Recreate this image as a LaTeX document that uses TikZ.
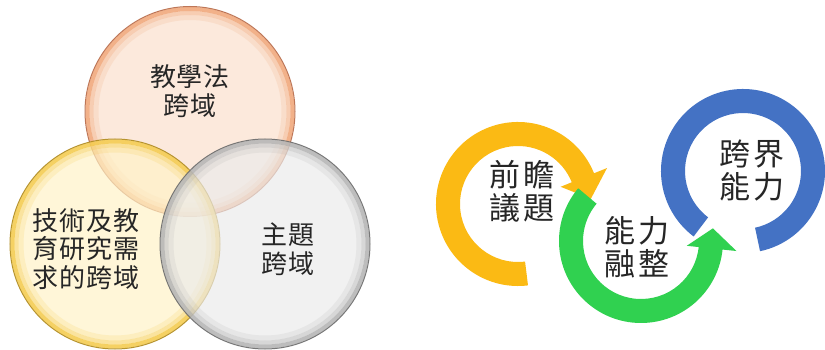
\documentclass[tikz,border=0pt]{standalone}
\usepackage{fontspec}
\newfontfamily\cjkvenn[LetterSpace=3]{Noto Sans CJK TC}
\newfontfamily\cjkring[LetterSpace=12]{Noto Sans CJK TC}
\usetikzlibrary{calc}
\definecolor{txt}{HTML}{262626}
\definecolor{peachfill}{HTML}{FBDFCC}
\definecolor{peachrim}{HTML}{EE9A66}
\definecolor{peachline}{HTML}{B86A48}
\definecolor{yelfill}{HTML}{FFF2C6}
\definecolor{yelrim}{HTML}{F2C232}
\definecolor{yelline}{HTML}{B08A1C}
\definecolor{grayfill}{HTML}{EBEBEB}
\definecolor{grayrim}{HTML}{A8A8A8}
\definecolor{grayline}{HTML}{6A6A6A}
\definecolor{ringyellow}{HTML}{FBBA14}
\definecolor{ringgreen}{HTML}{30D150}
\definecolor{ringblue}{HTML}{4472C4}
\tikzset{
  venntext/.style={font=\cjkvenn\fontsize{26}{28.5}\selectfont, text=txt, align=center, inner sep=0pt},
  ringtext/.style={font=\cjkring\fontsize{31}{33}\selectfont, text=txt, align=center, inner sep=0pt},
}
\newcommand{\bubble}[4]{%
  \fill[#2, fill opacity=0.68] (#1) circle[radius=105];
  \draw[#3, line width=4pt, opacity=0.7] (#1) circle[radius=102.5];
  \draw[#3, line width=4pt, opacity=0.35] (#1) circle[radius=98.5];
  \draw[#3, line width=5pt, opacity=0.15] (#1) circle[radius=94];
  \draw[#4, line width=1pt, opacity=0.9] (#1) circle[radius=105];
}
% band: centre, start angle, end angle, colour
\newcommand{\band}[4]{%
  \fill[#4] ($(#1)+(#2:58)$) -- ($(#1)+(#2:82)$) arc[start angle=#2, end angle=#3, radius=82]
    -- ($(#1)+(#3:58)$) arc[start angle=#3, end angle=#2, radius=58] -- cycle;
}
\begin{document}
\begin{tikzpicture}[x=1pt,y=1pt]
\useasboundingbox (0,0) rectangle (825,-350);
\fill[white] (0,0) rectangle (825,-350);
% Venn centres
\coordinate (vt) at (190,-111.5);
\coordinate (vl) at (115,-244);
\coordinate (vr) at (265,-244);
\bubble{vt}{peachfill}{peachrim}{peachline}
\bubble{vl}{yelfill}{yelrim}{yelline}
\bubble{vr}{grayfill}{grayrim}{grayline}
\node[venntext] (tt) at (190,-91) {教學法\\跨域};
\node[venntext] (tl) at (86,-249) {技術及教\\育研究需\\求的跨域};
\node[venntext] (tr) at (288,-249) {主題\\跨域};
% ring arrows
\coordinate (cy) at (518,-204);
\coordinate (cg) at (641,-241);
\coordinate (cb) at (743,-171);
\band{cy}{21}{277}{ringyellow}
\fill[ringyellow] ($(cy)+(22:46)$) -- ($(cy)+(22:96)$) -- ($(cy)+(4:73)$) -- cycle;
\band{cg}{140}{355}{ringgreen}
\fill[ringgreen] ($(cg)+(-6:96)$) -- ($(cg)+(-6:46)$) -- ($(cg)+(10:73)$) -- cycle;
\band{cb}{-78}{233}{ringblue}
\node[ringtext] (ry) at (522,-191) {前瞻\\議題};
\node[ringtext] (rg) at (637,-247.5) {能力\\融整};
\node[ringtext] (rb) at (752,-170) {跨界\\能力};
\end{tikzpicture}
\end{document}
